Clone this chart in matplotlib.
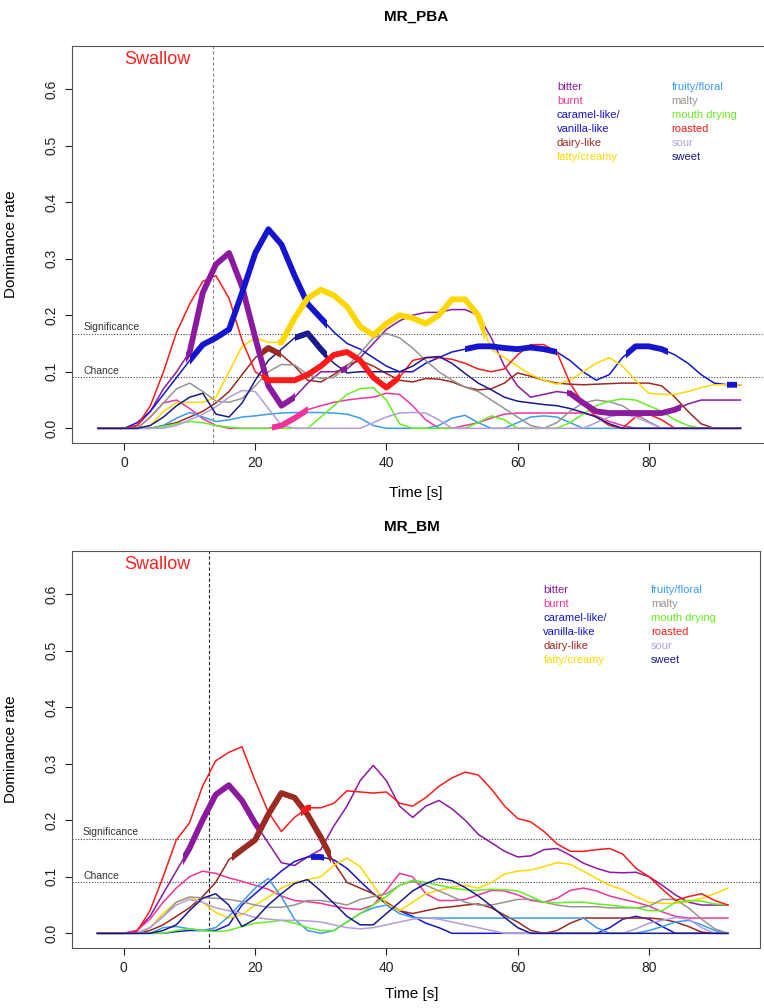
import matplotlib
matplotlib.use("Agg")
import matplotlib.pyplot as plt
from matplotlib.patches import Rectangle

plt.rcParams['font.family'] = ['Liberation Sans', 'DejaVu Sans']

# ---- data -------------------------------------------------------------
attributes = ['bitter', 'burnt', 'caramel-like/vanilla-like', 'dairy-like',
              'fatty/creamy', 'fruity/floral', 'malty', 'mouth drying',
              'roasted', 'sour', 'sweet']
colors = {'bitter': '#8B1A9E', 'burnt': '#F0359A', 'caramel-like/vanilla-like': '#1515D0',
          'dairy-like': '#9B2A22', 'fatty/creamy': '#FFD700', 'fruity/floral': '#3C9BF0',
          'malty': '#9A9490', 'mouth drying': '#66EE22', 'roasted': '#FF1A1A',
          'sour': '#B39DDB', 'sweet': '#1A1A8C'}
legend_col1 = ['bitter', 'burnt', 'caramel-like/', 'vanilla-like', 'dairy-like', 'fatty/creamy']
legend_col1_keys = ['bitter', 'burnt', 'caramel-like/vanilla-like', 'caramel-like/vanilla-like',
                    'dairy-like', 'fatty/creamy']
legend_col2 = ['fruity/floral', 'malty', 'mouth drying', 'roasted', 'sour', 'sweet']

chance = 1 / 11
significance = 0.167
swallow_pba = 13.5
swallow_bm = 13.0

times_pba = list(range(-4, 96, 2))
pba = {
    'roasted': [0, 0, 0, 0.005, 0.04, 0.1, 0.17, 0.22, 0.26, 0.27,
                0.23, 0.155, 0.1, 0.085, 0.085, 0.085, 0.095, 0.11, 0.13, 0.135,
                0.12, 0.09, 0.072, 0.09, 0.12, 0.125, 0.125, 0.122, 0.115, 0.105,
                0.1, 0.105, 0.13, 0.148, 0.148, 0.135, 0.08, 0.044, 0.02, 0.005,
                0, 0.02, 0.025, 0.015, 0, 0, 0, 0, 0, 0],
    'bitter': [0, 0, 0, 0.005, 0.03, 0.07, 0.1, 0.135, 0.24, 0.29,
               0.31, 0.25, 0.16, 0.075, 0.04, 0.055, 0.08, 0.1, 0.1, 0.105,
               0.125, 0.15, 0.175, 0.19, 0.2, 0.205, 0.205, 0.21, 0.21, 0.2,
               0.16, 0.11, 0.075, 0.055, 0.06, 0.065, 0.062, 0.045, 0.03, 0.027,
               0.027, 0.027, 0.027, 0.027, 0.033, 0.043, 0.05, 0.05, 0.05, 0.05],
    'caramel-like/vanilla-like': [0, 0, 0, 0.01, 0.03, 0.06, 0.09, 0.12, 0.148, 0.16,
                                  0.175, 0.24, 0.31, 0.352, 0.325, 0.27, 0.22, 0.195, 0.17, 0.15,
                                  0.14, 0.125, 0.11, 0.1, 0.1, 0.115, 0.125, 0.135, 0.14, 0.145,
                                  0.145, 0.142, 0.14, 0.143, 0.14, 0.135, 0.12, 0.1, 0.085, 0.095,
                                  0.125, 0.145, 0.145, 0.14, 0.13, 0.115, 0.095, 0.08, 0.077, 0.077],
    'sweet': [0, 0, 0, 0, 0.005, 0.02, 0.04, 0.055, 0.062, 0.025,
              0.02, 0.045, 0.085, 0.12, 0.14, 0.16, 0.168, 0.14, 0.115, 0.098,
              0.1, 0.1, 0.1, 0.1, 0.11, 0.125, 0.127, 0.115, 0.097, 0.08,
              0.068, 0.055, 0.048, 0.045, 0.042, 0.04, 0.035, 0.028, 0.02, 0.008,
              0, 0, 0, 0, 0, 0, 0, 0, 0, 0],
    'fatty/creamy': [0, 0, 0, 0, 0.005, 0.03, 0.045, 0.046, 0.046, 0.055,
                     0.1, 0.145, 0.16, 0.152, 0.152, 0.195, 0.23, 0.245, 0.235, 0.215,
                     0.18, 0.165, 0.185, 0.2, 0.195, 0.185, 0.2, 0.228, 0.228, 0.2,
                     0.14, 0.125, 0.11, 0.095, 0.085, 0.078, 0.085, 0.1, 0.115, 0.125,
                     0.11, 0.085, 0.062, 0.06, 0.06, 0.065, 0.072, 0.077, 0.077, 0.077],
    'dairy-like': [0, 0, 0, 0, 0, 0.005, 0.01, 0.02, 0.03, 0.045,
                   0.065, 0.095, 0.125, 0.142, 0.13, 0.11, 0.085, 0.082, 0.095, 0.112,
                   0.12, 0.11, 0.097, 0.085, 0.082, 0.088, 0.087, 0.082, 0.073, 0.068,
                   0.07, 0.08, 0.098, 0.092, 0.085, 0.08, 0.078, 0.077, 0.078, 0.079,
                   0.08, 0.08, 0.08, 0.075, 0.055, 0.03, 0.008, 0, 0, 0],
    'malty': [0, 0, 0, 0, 0.02, 0.045, 0.07, 0.08, 0.065, 0.048,
              0.046, 0.053, 0.075, 0.1, 0.113, 0.112, 0.095, 0.088, 0.09, 0.11,
              0.133, 0.16, 0.168, 0.16, 0.142, 0.12, 0.1, 0.085, 0.073, 0.065,
              0.05, 0.035, 0.02, 0.005, 0, 0.01, 0.03, 0.045, 0.05, 0.047,
              0.04, 0.025, 0.012, 0, 0, 0, 0, 0, 0, 0],
    'fruity/floral': [0, 0, 0, 0, 0, 0.005, 0.018, 0.028, 0.02, 0.012,
                      0.015, 0.02, 0.022, 0.025, 0.027, 0.028, 0.028, 0.028, 0.027, 0.025,
                      0.018, 0.005, 0, 0, 0, 0, 0.005, 0.018, 0.023, 0.01,
                      0, 0, 0.01, 0.02, 0.022, 0.02, 0.01, 0, 0, 0,
                      0, 0, 0, 0, 0, 0, 0, 0, 0, 0],
    'mouth drying': [0, 0, 0, 0, 0, 0.003, 0.008, 0.012, 0.01, 0.005,
                     0.002, 0, 0, 0, 0, 0, 0, 0.02, 0.04, 0.06,
                     0.07, 0.072, 0.05, 0.008, 0, 0, 0, 0, 0, 0.01,
                     0.022, 0.015, 0, 0, 0, 0, 0.01, 0.025, 0.04, 0.048,
                     0.052, 0.05, 0.04, 0.03, 0.015, 0.005, 0, 0, 0, 0],
    'burnt': [0, 0, 0, 0, 0.02, 0.045, 0.05, 0.035, 0.017, 0.005,
              0, 0, 0, 0, 0.005, 0.018, 0.033, 0.04, 0.046, 0.05,
              0.053, 0.055, 0.062, 0.06, 0.04, 0.015, 0, 0, 0.005, 0.01,
              0.018, 0.025, 0.027, 0.027, 0.027, 0.027, 0.027, 0.027, 0.022, 0.012,
              0.005, 0, 0, 0, 0, 0, 0, 0, 0, 0],
    'sour': [0, 0, 0, 0, 0, 0, 0.005, 0.015, 0.025, 0.038,
             0.055, 0.067, 0.065, 0.035, 0.005, 0, 0, 0, 0, 0,
             0, 0.01, 0.02, 0.027, 0.028, 0.027, 0.015, 0, 0, 0,
             0, 0, 0, 0, 0, 0, 0, 0, 0.01, 0.02,
             0.025, 0.02, 0.01, 0, 0, 0, 0, 0, 0, 0],
}
# time spans where a curve is drawn thick (significant)
sig_pba = {
    'bitter': [(9.5, 26), (33, 34), (67.5, 85)],
    'caramel-like/vanilla-like': [(10, 31), (52, 66), (76.5, 83), (92, 93.5)],
    'sweet': [(26, 31)],
    'fatty/creamy': [(23.5, 55)],
    'roasted': [(21, 42)],
    'dairy-like': [(21, 24)],
    'burnt': [(22.5, 28)],
}

times_bm = list(range(-4, 94, 2))
bm = {
    'roasted': [0, 0, 0, 0.003, 0.04, 0.1, 0.165, 0.195, 0.26, 0.305,
                0.32, 0.33, 0.27, 0.215, 0.18, 0.205, 0.222, 0.222, 0.23, 0.252,
                0.25, 0.248, 0.25, 0.23, 0.225, 0.24, 0.26, 0.275, 0.285, 0.28,
                0.255, 0.225, 0.203, 0.197, 0.18, 0.158, 0.145, 0.145, 0.148, 0.15,
                0.14, 0.115, 0.1, 0.078, 0.058, 0.065, 0.07, 0.058, 0.05],
    'bitter': [0, 0, 0, 0.005, 0.03, 0.07, 0.11, 0.15, 0.2, 0.245,
               0.262, 0.235, 0.195, 0.16, 0.125, 0.12, 0.135, 0.148, 0.19, 0.225,
               0.27, 0.297, 0.27, 0.225, 0.205, 0.225, 0.235, 0.22, 0.2, 0.175,
               0.16, 0.145, 0.135, 0.137, 0.148, 0.15, 0.138, 0.124, 0.115, 0.108,
               0.107, 0.108, 0.1, 0.085, 0.068, 0.055, 0.05, 0.05, 0.05],
    'dairy-like': [0, 0, 0, 0, 0.005, 0.015, 0.03, 0.045, 0.065, 0.09,
                   0.13, 0.148, 0.165, 0.21, 0.248, 0.24, 0.21, 0.17, 0.125, 0.09,
                   0.08, 0.07, 0.055, 0.04, 0.035, 0.04, 0.045, 0.047, 0.05, 0.052,
                   0.045, 0.032, 0.02, 0.005, 0, 0.005, 0.018, 0.027, 0.027, 0.027,
                   0.027, 0.027, 0.027, 0.025, 0.02, 0.012, 0.002, 0, 0],
    'burnt': [0, 0, 0, 0.005, 0.025, 0.055, 0.08, 0.1, 0.11, 0.106,
              0.098, 0.092, 0.085, 0.078, 0.066, 0.058, 0.056, 0.053, 0.048, 0.044,
              0.042, 0.05, 0.076, 0.106, 0.1, 0.07, 0.058, 0.058, 0.06, 0.068,
              0.076, 0.075, 0.068, 0.058, 0.055, 0.062, 0.076, 0.08, 0.075, 0.066,
              0.06, 0.055, 0.048, 0.038, 0.03, 0.027, 0.027, 0.027, 0.027],
    'fatty/creamy': [0, 0, 0, 0, 0.01, 0.035, 0.055, 0.064, 0.055, 0.037,
                     0.027, 0.033, 0.05, 0.064, 0.08, 0.09, 0.095, 0.1, 0.12, 0.133,
                     0.118, 0.085, 0.052, 0.04, 0.055, 0.07, 0.076, 0.082, 0.085, 0.08,
                     0.09, 0.105, 0.11, 0.112, 0.118, 0.125, 0.122, 0.11, 0.097, 0.085,
                     0.077, 0.065, 0.055, 0.053, 0.053, 0.056, 0.062, 0.07, 0.08],
    'malty': [0, 0, 0, 0, 0.01, 0.03, 0.055, 0.064, 0.063, 0.062,
              0.06, 0.056, 0.05, 0.046, 0.046, 0.05, 0.058, 0.058, 0.055, 0.05,
              0.06, 0.065, 0.07, 0.085, 0.092, 0.085, 0.075, 0.065, 0.055, 0.05,
              0.05, 0.055, 0.06, 0.06, 0.055, 0.05, 0.047, 0.047, 0.047, 0.045,
              0.045, 0.045, 0.048, 0.06, 0.06, 0.045, 0.025, 0.008, 0],
    'sweet': [0, 0, 0, 0, 0, 0.005, 0.015, 0.04, 0.062, 0.07,
              0.05, 0.012, 0.025, 0.05, 0.07, 0.088, 0.095, 0.075, 0.053, 0.03,
              0.015, 0.015, 0.035, 0.055, 0.075, 0.088, 0.097, 0.093, 0.081, 0.066,
              0.048, 0.028, 0.01, 0, 0, 0, 0, 0, 0, 0,
              0, 0, 0, 0, 0, 0, 0, 0, 0],
    'caramel-like/vanilla-like': [0, 0, 0, 0, 0, 0, 0.003, 0.005, 0.005, 0.005,
                                  0.015, 0.05, 0.07, 0.09, 0.11, 0.127, 0.135, 0.135, 0.13, 0.115,
                                  0.092, 0.07, 0.052, 0.04, 0.03, 0.018, 0.01, 0, 0, 0,
                                  0, 0, 0, 0, 0, 0, 0, 0, 0, 0.01,
                                  0.025, 0.03, 0.025, 0.012, 0, 0, 0, 0, 0],
    'fruity/floral': [0, 0, 0, 0, 0, 0.01, 0.012, 0.008, 0.005, 0.01,
                      0.03, 0.055, 0.08, 0.097, 0.065, 0.025, 0.005, 0, 0.005, 0.02,
                      0.035, 0.045, 0.05, 0.035, 0.028, 0.027, 0.027, 0.027, 0.027, 0.027,
                      0.027, 0.027, 0.027, 0.027, 0.027, 0.027, 0.027, 0.027, 0.01, 0,
                      0, 0, 0.005, 0.012, 0.02, 0.023, 0.015, 0.005, 0],
    'mouth drying': [0, 0, 0, 0, 0, 0, 0.005, 0.008, 0.005, 0.003,
                     0.005, 0.012, 0.018, 0.02, 0.023, 0.018, 0.01, 0.005, 0.005, 0.02,
                     0.035, 0.05, 0.065, 0.085, 0.094, 0.09, 0.085, 0.08, 0.077, 0.076,
                     0.078, 0.077, 0.075, 0.065, 0.055, 0.054, 0.055, 0.055, 0.052, 0.05,
                     0.047, 0.045, 0.04, 0.04, 0.055, 0.058, 0.057, 0.052, 0.05],
    'sour': [0, 0, 0, 0, 0.01, 0.03, 0.05, 0.06, 0.055, 0.045,
             0.04, 0.035, 0.028, 0.025, 0.023, 0.023, 0.022, 0.02, 0.015, 0.01,
             0.008, 0.01, 0.015, 0.02, 0.025, 0.027, 0.025, 0.02, 0.015, 0.01,
             0.005, 0, 0, 0, 0, 0, 0, 0, 0, 0,
             0, 0.008, 0.018, 0.023, 0.028, 0.025, 0.01, 0, 0],
}
sig_bm = {
    'bitter': [(9, 20.7)],
    'dairy-like': [(16.5, 31.5)],
    'roasted': [(27, 28.5)],
    'caramel-like/vanilla-like': [(28.5, 30.5)],
}

x_ticks = [0, 20, 40, 60, 80]
y_ticks = [0.0, 0.1, 0.2, 0.3, 0.4, 0.5, 0.6]


def draw_panel(ax, times, curves, spans, swallow, xlim, vline_color, leg_x, leg_y):
    for name in attributes:
        ax.plot(times, curves[name], color=colors[name], lw=1.1, zorder=2)
    for name, intervals in spans.items():
        for t0, t1 in intervals:
            ln, = ax.plot(times, curves[name], color=colors[name], lw=4.2,
                          solid_capstyle='butt', zorder=3)
            ln.set_clip_path(Rectangle((t0, -1), t1 - t0, 3, transform=ax.transData))

    ax.axhline(significance, color='#444444', lw=0.8, ls=(0, (1, 1.5)), zorder=1)
    ax.axhline(chance, color='#444444', lw=0.8, ls=(0, (1, 1.5)), zorder=1)
    ax.axvline(swallow, color=vline_color, lw=0.8, ls=(0, (3, 2)), zorder=1)
    ax.text(-6.2, significance + 0.006, 'Significance', fontsize=7.5, color='#333333')
    ax.text(-6.2, chance + 0.006, 'Chance', fontsize=7.5, color='#333333')
    ax.text(0, 0.645, 'Swallow', fontsize=13, color='#FF2020')

    for i, lab in enumerate(legend_col1):
        ax.text(leg_x[0], leg_y[i], lab, fontsize=8, color=colors[legend_col1_keys[i]], va='center')
    for i, lab in enumerate(legend_col2):
        ax.text(leg_x[1], leg_y[i], lab, fontsize=8, color=colors[lab], va='center')

    ax.set_xlim(*xlim)
    ax.set_ylim(-0.026, 0.676)
    ax.set_xticks(x_ticks)
    ax.set_yticks(y_ticks)
    ax.set_yticklabels([f'{v:.1f}' for v in y_ticks], rotation=90, va='center')
    ax.tick_params(axis='both', direction='out', length=5, width=0.8, labelsize=10,
                   colors='#222222')
    ax.tick_params(axis='y', pad=5)
    ax.tick_params(axis='x', pad=4)
    for s in ax.spines.values():
        s.set_color('#555555')
        s.set_linewidth(0.8)
    ax.set_ylabel('Dominance rate', fontsize=11)
    ax.set_xlabel('Time [s]', fontsize=11, va='center')


fig = plt.figure(figsize=(7.64, 10.08), dpi=100)

ax1 = fig.add_axes([0.0942, 0.5605, 0.9175, 0.3938])
draw_panel(ax1, times_pba, pba, sig_pba, swallow_pba, (-7.96, 98.96), '#888888',
           (66.0, 83.5), [0.603, 0.579, 0.554, 0.529, 0.504, 0.480])
ax1.yaxis.set_label_coords(-0.077, 0.5)
ax1.xaxis.set_label_coords(0.49, -0.126)
fig.text(416 / 764, 1 - 17 / 1008, 'MR_PBA', ha='center', va='center',
         fontsize=11, fontweight='bold')

ax2 = fig.add_axes([0.0942, 0.0595, 0.9005, 0.3938])
draw_panel(ax2, times_bm, bm, sig_bm, swallow_bm, (-7.88, 96.88), '#222222',
           (63.9, 80.3), [0.607, 0.582, 0.558, 0.533, 0.508, 0.483])
ax2.yaxis.set_label_coords(-0.078, 0.5)
ax2.xaxis.set_label_coords(0.494, -0.115)
fig.text(412 / 764, 1 - 527 / 1008, 'MR_BM', ha='center', va='center',
         fontsize=11, fontweight='bold')

fig.savefig('out.png', dpi=100)
